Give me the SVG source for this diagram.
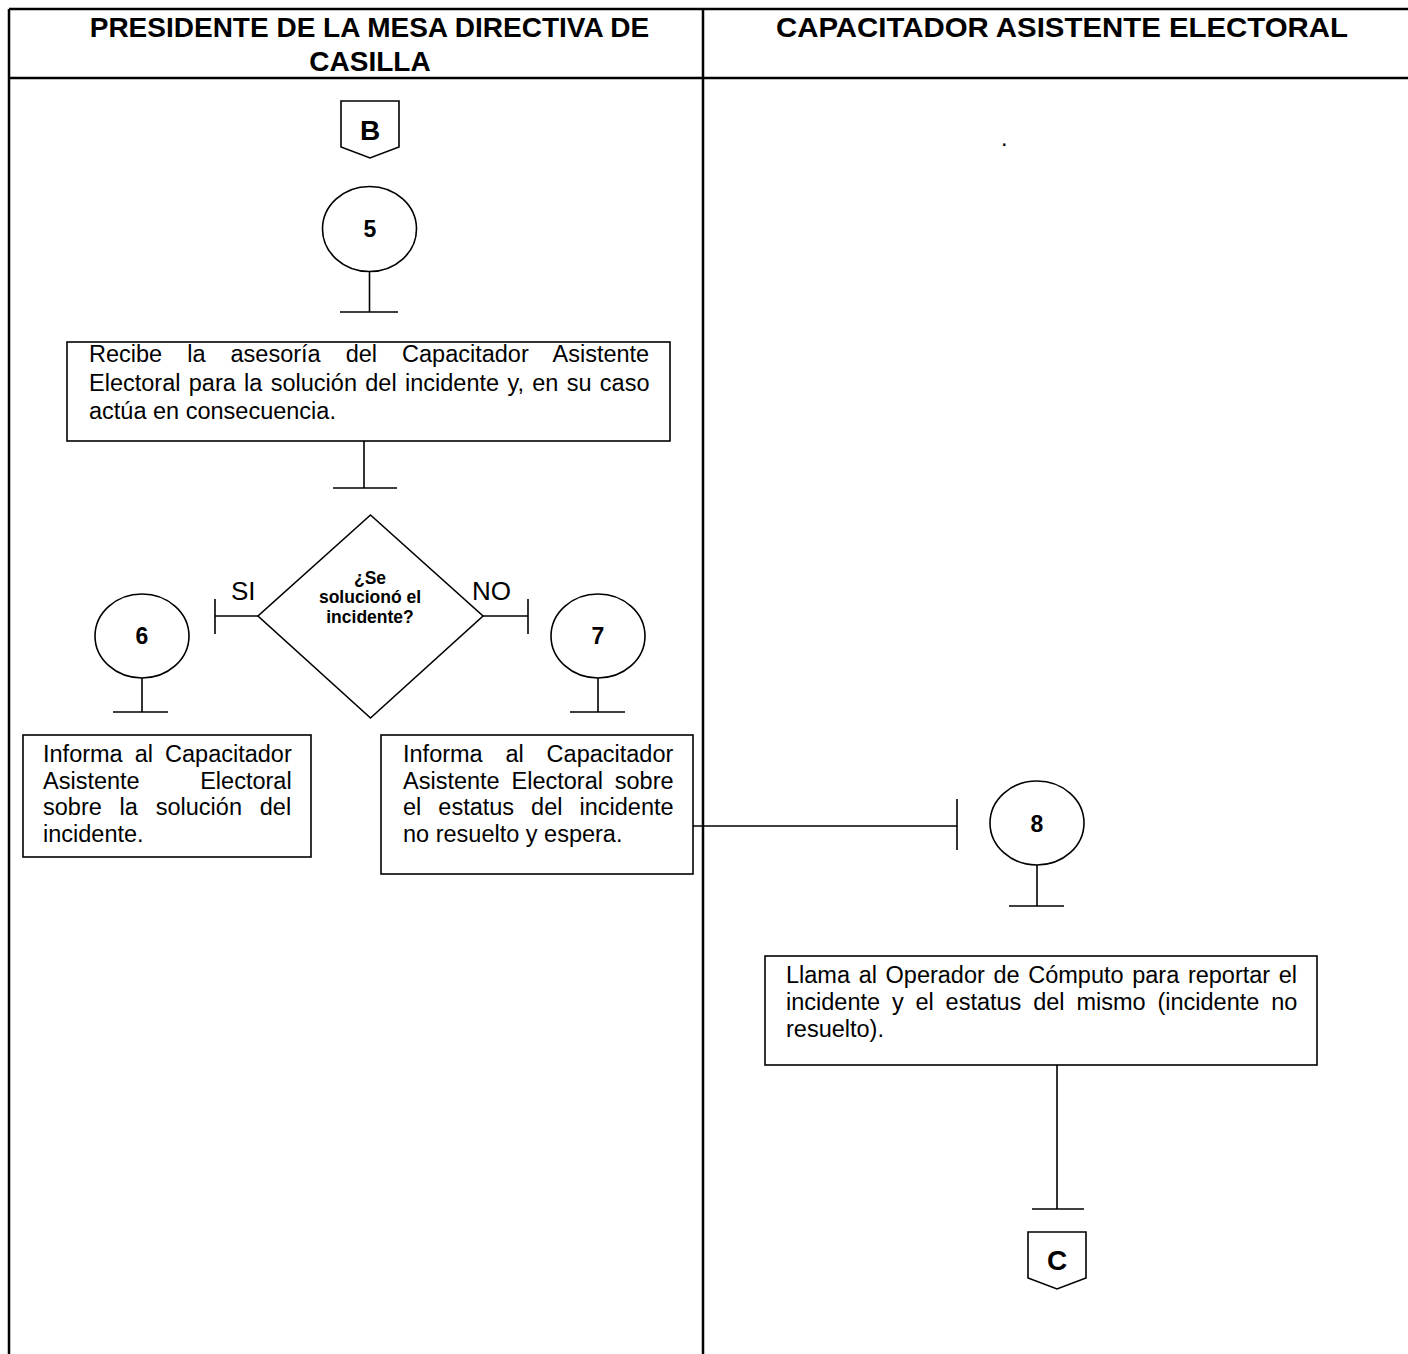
<svg xmlns="http://www.w3.org/2000/svg" width="1408" height="1354" viewBox="0 0 1408 1354">
<style>
.grid{stroke:#000;stroke-width:2.5;fill:none}
.sh{stroke:#000;stroke-width:1.6;fill:#fff}
.ln{stroke:#000;stroke-width:1.6;fill:none}
.hd{font-family:"Liberation Sans",Arial,sans-serif;font-weight:bold;font-size:28px;fill:#000;text-anchor:middle}
.tx{font-family:"Liberation Sans",Arial,sans-serif;font-size:23.5px;fill:#000}
.num{font-family:"Liberation Sans",Arial,sans-serif;font-weight:bold;font-size:23px;fill:#000;text-anchor:middle}
.con{font-family:"Liberation Sans",Arial,sans-serif;font-weight:bold;font-size:28px;fill:#000;text-anchor:middle}
.dq{font-family:"Liberation Sans",Arial,sans-serif;font-weight:bold;font-size:17.5px;fill:#000;text-anchor:middle}
.lb{font-family:"Liberation Sans",Arial,sans-serif;font-size:26px;fill:#000}
</style>
<rect width="1408" height="1354" fill="#fff"/>
<g id="table">
<line class="grid" x1="9" y1="9" x2="1408" y2="9"/>
<line class="grid" x1="9" y1="78" x2="1408" y2="78"/>
<line class="grid" x1="9" y1="9" x2="9" y2="1354"/>
<line class="grid" x1="703" y1="9" x2="703" y2="1354"/>
<text class="hd" x="369.5" y="37">PRESIDENTE DE LA MESA DIRECTIVA DE</text>
<text class="hd" x="370" y="71">CASILLA</text>
<text class="hd" x="776" y="37" style="text-anchor:start" textLength="572" lengthAdjust="spacingAndGlyphs">CAPACITADOR ASISTENTE ELECTORAL</text>
<text class="tx" x="1001" y="146" font-size="14">.</text>
</g>
<g id="connectors">
<line class="ln" x1="369.5" y1="271.5" x2="369.5" y2="312"/>
<line class="ln" x1="340" y1="312" x2="398" y2="312"/>
<line class="ln" x1="364" y1="441" x2="364" y2="488"/>
<line class="ln" x1="333" y1="488" x2="397" y2="488"/>
<line class="ln" x1="258" y1="616" x2="215" y2="616"/>
<line class="ln" x1="215" y1="599" x2="215" y2="634"/>
<line class="ln" x1="483" y1="616" x2="528" y2="616"/>
<line class="ln" x1="528" y1="599" x2="528" y2="634"/>
<line class="ln" x1="142" y1="678" x2="142" y2="712"/>
<line class="ln" x1="113" y1="712" x2="168" y2="712"/>
<line class="ln" x1="598" y1="678" x2="598" y2="712"/>
<line class="ln" x1="570" y1="712" x2="625" y2="712"/>
<line class="ln" x1="693" y1="826" x2="957" y2="826"/>
<line class="ln" x1="957" y1="799" x2="957" y2="850"/>
<line class="ln" x1="1037" y1="865" x2="1037" y2="906"/>
<line class="ln" x1="1009" y1="906" x2="1064" y2="906"/>
<line class="ln" x1="1057" y1="1065" x2="1057" y2="1209"/>
<line class="ln" x1="1032" y1="1209" x2="1084" y2="1209"/>
<text class="lb" x="231" y="600">SI</text>
<text class="lb" x="472" y="600" font-size="27">NO</text>
</g>
<g id="nodeB">
<path class="sh" d="M341,101 H399 V147 L370,158 L341,147 Z"/>
<text class="con" x="370" y="140">B</text>
</g>
<g id="node5">
<ellipse class="sh" cx="369.5" cy="229" rx="47" ry="42.5"/>
<text class="num" x="370" y="237">5</text>
</g>
<g id="step5">
<rect class="sh" x="67" y="342" width="603" height="99"/>
<text class="tx" x="89" y="362" style="word-spacing:18.5px">Recibe la asesoría del Capacitador Asistente</text>
<text class="tx" x="89" y="391" style="word-spacing:1.8px">Electoral para la solución del incidente y, en su caso</text>
<text class="tx" x="89" y="419">actúa en consecuencia.</text>
</g>
<g id="decision">
<path class="sh" d="M370.5,515 L483,616 L370.5,718 L258,616 Z"/>
<text class="dq" x="370" y="584">¿Se</text>
<text class="dq" x="370" y="603">solucionó el</text>
<text class="dq" x="370" y="623">incidente?</text>
</g>
<g id="node6">
<ellipse class="sh" cx="142" cy="636" rx="47" ry="42"/>
<text class="num" x="142" y="644">6</text>
</g>
<g id="node7">
<ellipse class="sh" cx="598" cy="636" rx="47" ry="42"/>
<text class="num" x="598" y="644">7</text>
</g>
<g id="step6">
<rect class="sh" x="23" y="735" width="288" height="122"/>
<text class="tx" x="43" y="762" style="word-spacing:5.5px">Informa al Capacitador</text>
<text class="tx" x="43" y="789" style="word-spacing:54px">Asistente Electoral</text>
<text class="tx" x="43" y="815" style="word-spacing:11.3px">sobre la solución del</text>
<text class="tx" x="43" y="842">incidente.</text>
</g>
<g id="step7">
<rect class="sh" x="381" y="735" width="312" height="139"/>
<text class="tx" x="403" y="762" style="word-spacing:16.3px">Informa al Capacitador</text>
<text class="tx" x="403" y="789" style="word-spacing:5.3px">Asistente Electoral sobre</text>
<text class="tx" x="403" y="815" style="word-spacing:10.5px">el estatus del incidente</text>
<text class="tx" x="403" y="842">no resuelto y espera.</text>
</g>
<g id="node8">
<ellipse class="sh" cx="1037" cy="823" rx="47" ry="42"/>
<text class="num" x="1037" y="832">8</text>
</g>
<g id="step8">
<rect class="sh" x="765" y="956" width="552" height="109"/>
<text class="tx" x="786" y="983" style="word-spacing:2.1px">Llama al Operador de Cómputo para reportar el</text>
<text class="tx" x="786" y="1010" style="word-spacing:5.3px">incidente y el estatus del mismo (incidente no</text>
<text class="tx" x="786" y="1037">resuelto).</text>
</g>
<g id="nodeC">
<path class="sh" d="M1028,1232 H1086 V1278 L1057,1289 L1028,1278 Z"/>
<text class="con" x="1057" y="1270">C</text>
</g>
</svg>
